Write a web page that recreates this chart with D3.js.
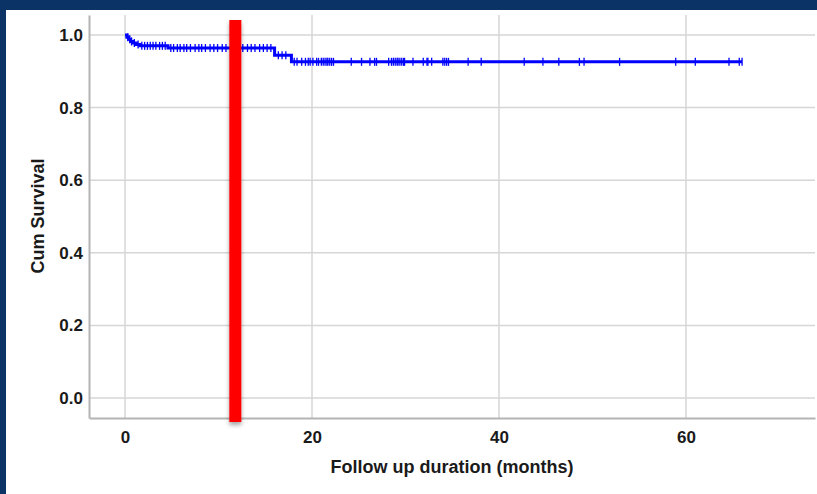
<!DOCTYPE html>
<html>
<head>
<meta charset="utf-8">
<script src="https://cdn.jsdelivr.net/npm/d3@7"></script>
<style>
  body { margin: 0; background: #0b3366; }
  svg { display: block; }
  .tick-label { font-family: "Liberation Sans", Arial, sans-serif; font-weight: bold; font-size: 17px; fill: #1a1a1a; }
  .axis-title { font-family: "Liberation Sans", Arial, sans-serif; font-weight: bold; font-size: 18px; fill: #1a1a1a; }
</style>
</head>
<body>
<div id="chart"></div>
<script>
const WIDTH = 817;
const HEIGHT = 494;

// step points of the survival curve (months, cumulative survival)
var eventMonths = [0, 0.2, 0.4, 0.6, 0.9, 1.2, 1.6, 4.6, 16.0, 17.8];
var eventSurvival = [1.0, 0.994, 0.988, 0.982, 0.978, 0.974, 0.970, 0.964, 0.944, 0.926];
var lastMonth = 66;

// censored cases (months)
var censorMonths = [0.3, 0.5, 0.7, 1.0, 1.4, 1.8, 2.1, 2.4, 2.7, 3.0, 3.3, 3.7, 4.0, 4.3,
  4.9, 5.2, 5.6, 5.9, 6.3, 6.6, 7.0, 7.5, 7.9, 8.2, 8.6, 9.1, 9.5, 9.9, 10.4, 10.8,
  11.3, 12.2, 12.6, 13.1, 13.5, 13.9, 14.4, 14.8, 15.2, 15.6, 16.4, 16.8, 17.2,
  18.1, 18.4, 18.9, 19.3, 19.6, 19.8, 20.1, 20.5, 20.7, 21.0, 21.2, 21.4, 21.6, 21.7,
  21.9, 22.1, 22.3, 24.2, 25.3, 26.2, 26.7, 26.9, 28.2, 28.5, 28.7, 28.9, 29.1, 29.2,
  29.4, 29.6, 29.8, 29.9, 30.8, 31.9, 32.3, 32.4, 32.8, 34.0, 34.2, 34.4, 34.6, 36.7,
  38.1, 42.7, 44.7, 46.4, 48.6, 49.1, 52.9, 58.9, 61.0, 64.6, 65.7, 66.0];

var xTicks = [0, 20, 40, 60];
var yTicks = [0.0, 0.2, 0.4, 0.6, 0.8, 1.0];
var markerMonth = 11.8;   // red reference bar

var svg = d3.select("#chart").append("svg")
    .attr("width", WIDTH)
    .attr("height", HEIGHT);

// white panel on the dark slide
svg.append("rect")
    .attr("x", 6).attr("y", 10)
    .attr("width", WIDTH - 6).attr("height", HEIGHT - 10)
    .attr("fill", "#ffffff");

var x = d3.scaleLinear().domain([-3.85, 73.8]).range([89, 815]);
var y = d3.scaleLinear().domain([-0.055, 1.055]).range([418, 15]);

// grid
svg.append("g").selectAll("line")
    .data(yTicks).join("line")
    .attr("x1", 89).attr("x2", 815)
    .attr("y1", d => y(d)).attr("y2", d => y(d))
    .attr("stroke", "#d6d6d6").attr("stroke-width", 1.5);
svg.append("g").selectAll("line")
    .data(xTicks).join("line")
    .attr("y1", 15).attr("y2", 418)
    .attr("x1", d => x(d)).attr("x2", d => x(d))
    .attr("stroke", "#d6d6d6").attr("stroke-width", 1.5);

// axes
var xAxis = svg.append("g")
    .attr("transform", "translate(0,418)")
    .call(d3.axisBottom(x).tickValues(xTicks).tickSize(0).tickPadding(10).tickFormat(d3.format("d")));
var yAxis = svg.append("g")
    .attr("transform", "translate(89,0)")
    .call(d3.axisLeft(y).tickValues(yTicks).tickSize(0).tickPadding(6).tickFormat(d3.format(".1f")));
[xAxis, yAxis].forEach(g => {
  g.select(".domain").attr("stroke", "#b4b4b4").attr("stroke-width", 2);
  g.selectAll("text").attr("class", "tick-label").attr("font-family", null).attr("font-size", null);
});
xAxis.selectAll("text").attr("dy", "0.9em");

svg.append("text")
    .attr("class", "axis-title")
    .attr("text-anchor", "middle")
    .attr("x", 452).attr("y", 473)
    .text("Follow up duration (months)");
svg.append("text")
    .attr("class", "axis-title")
    .attr("text-anchor", "middle")
    .attr("transform", "translate(44,216) rotate(-90)")
    .text("Cum Survival");

// survival step line
var pts = eventMonths.map((m, i) => [m, eventSurvival[i]]);
pts.push([lastMonth, eventSurvival[eventSurvival.length - 1]]);
var line = d3.line()
    .x(d => x(d[0]))
    .y(d => y(d[1]))
    .curve(d3.curveStepAfter);
svg.append("path")
    .datum(pts)
    .attr("fill", "none")
    .attr("stroke", "#0000ff")
    .attr("stroke-width", 3)
    .attr("d", line);

var bisect = d3.bisector(d => d).right;
var survAt = m => eventSurvival[Math.max(0, bisect(eventMonths, m) - 1)];
svg.append("g").selectAll("line")
    .data(censorMonths).join("line")
    .attr("x1", d => x(d)).attr("x2", d => x(d))
    .attr("y1", d => y(survAt(d)) - 4)
    .attr("y2", d => y(survAt(d)) + 4)
    .attr("stroke", "#0000ff")
    .attr("stroke-width", 1.3);

// red bar with soft shadow
var defs = svg.append("defs");
var f = defs.append("filter").attr("id", "shadow").attr("x", "-50%").attr("y", "-5%").attr("width", "200%").attr("height", "115%");
f.append("feDropShadow").attr("dx", 0).attr("dy", 3).attr("stdDeviation", 2).attr("flood-color", "#000").attr("flood-opacity", 0.35);
svg.append("rect")
    .attr("x", x(markerMonth) - 6)
    .attr("y", 20)
    .attr("width", 12)
    .attr("height", 402)
    .attr("fill", "#ff0000")
    .attr("filter", "url(#shadow)");
</script>
</body>
</html>
